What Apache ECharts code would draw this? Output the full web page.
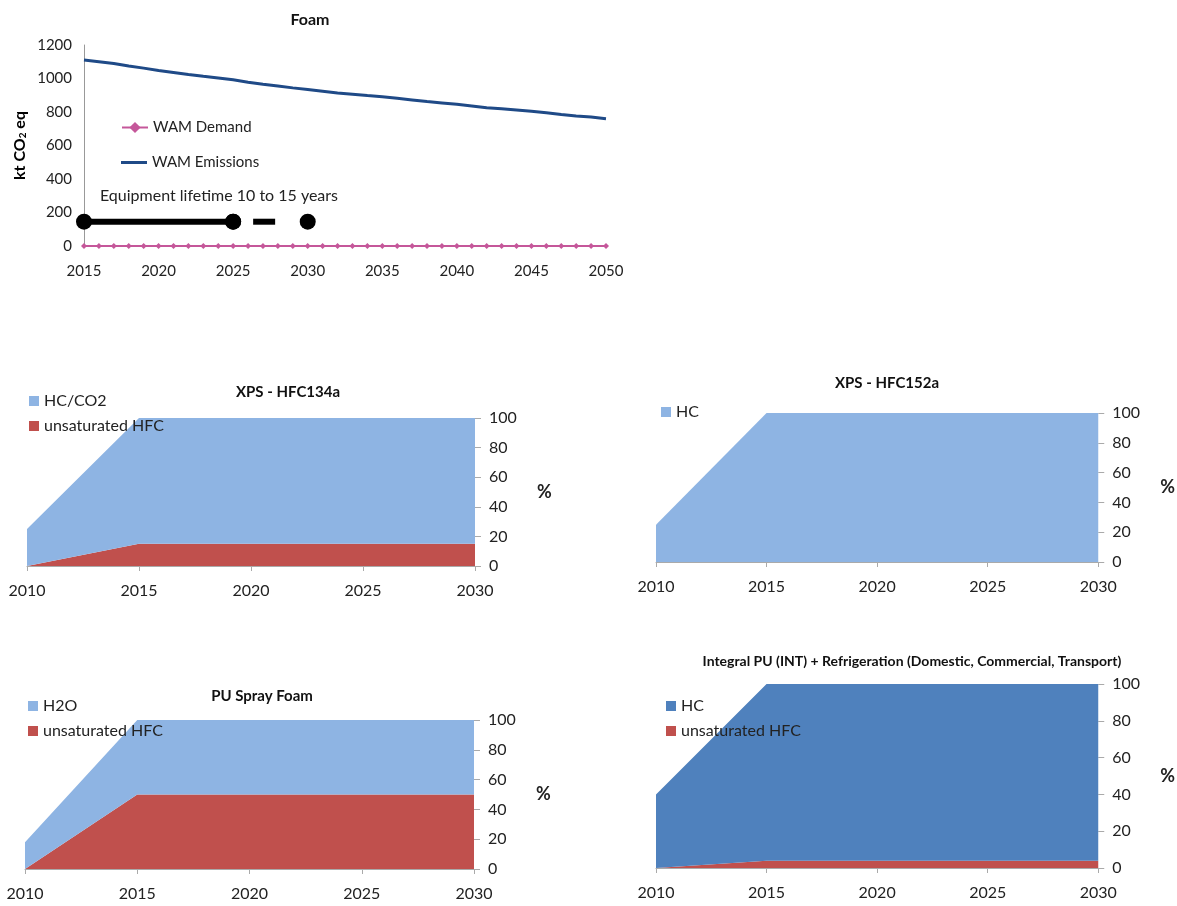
<!DOCTYPE html>
<html><head><meta charset="utf-8">
<script src="https://cdn.jsdelivr.net/npm/echarts@6/dist/echarts.min.js"></script>
<style>html,body{margin:0;padding:0;background:#fff}#c{width:1177px;height:906px}</style>
</head><body><div id="c"></div>
<script>
// ---- Top chart data (Foam) ----
const years = [2015,2016,2017,2018,2019,2020,2021,2022,2023,2024,2025,2026,2027,2028,2029,2030,2031,2032,2033,2034,2035,2036,2037,2038,2039,2040,2041,2042,2043,2044,2045,2046,2047,2048,2049,2050];
const wamDemand = [0,0,0,0,0,0,0,0,0,0,0,0,0,0,0,0,0,0,0,0,0,0,0,0,0,0,0,0,0,0,0,0,0,0,0,0];
const wamEmissions = [1110,1100,1090,1075,1062,1048,1036,1024,1013,1003,992,978,966,955,944,934,924,914,906,898,891,882,872,862,854,846,836,826,820,812,804,795,785,776,770,760];
const lifetimeSolid = [[2015,145],[2025,145]];
const lifetimeDashed = [[2025,145],[2030,145]];
const lifetimeLabel = 'Equipment lifetime 10 to 15 years';

// ---- Area charts data (%) ----
const areaYears = ['2010','2015','2020','2025','2030'];
const xps134UnsatHFC = [0,15,15,15,15];
const xps134HcCo2   = [25,85,85,85,85];
const xps152Hc      = [25,100,100,100,100];
const puUnsatHFC    = [0,50,50,50,50];
const puH2O         = [18,50,50,50,50];
const intUnsatHFC   = [0,4,4,4,4];
const intHc         = [40,96,96,96,96];

const FONT = 'Lato';
const LIGHT = '#8EB4E3', RED = '#C0504D', DARK = '#4F81BD';
const chart = echarts.init(document.getElementById('c'), null, {renderer:'canvas'});

const areaGrids = [
  {left:27, right:702, top:418, bottom:340},
  {left:656, right:72, top:413, bottom:344},
  {left:25, right:703, top:720, bottom:37},
  {left:656, right:72, top:684, bottom:38}
];
const grids = [{left:84, right:571, top:45, bottom:660}].concat(areaGrids);

const xAxes = [{
  gridIndex:0, type:'value', min:2015, max:2050, interval:5,
  axisLine:{show:true, lineStyle:{color:'#999'}}, axisTick:{show:false}, splitLine:{show:false},
  axisLabel:{color:'#222', fontSize:15, fontFamily:FONT, margin:18, formatter:v=>String(v)}
}];
const yAxes = [{
  gridIndex:0, type:'value', min:0, max:1200, interval:200,
  axisLine:{show:true, lineStyle:{color:'#999'}}, axisTick:{show:false}, splitLine:{show:false},
  axisLabel:{color:'#222', fontSize:15, fontFamily:FONT, margin:12, formatter:v=>String(v)},
  name:'{b|kt CO}{s|2}{b| eq}', nameLocation:'middle', nameRotate:90, nameGap:56,
  nameTextStyle:{rich:{b:{fontSize:16, fontWeight:'bold', color:'#000', fontFamily:FONT},
    s:{fontSize:10, fontWeight:'bold', color:'#000', fontFamily:FONT, padding:[7,0,0,0]}}}
}];
for (let i=1;i<=4;i++){
  xAxes.push({gridIndex:i, type:'category', data:areaYears, boundaryGap:false,
    axisLine:{show:true, lineStyle:{color:'#aaa'}}, axisTick:{show:true, length:5, lineStyle:{color:'#aaa'}},
    splitLine:{show:false},
    axisLabel:{color:'#222', fontSize:16, fontFamily:FONT, margin:17}});
  yAxes.push({gridIndex:i, type:'value', position:'right', min:0, max:100, interval:20,
    axisLine:{show:false}, axisTick:{show:true, length:6, lineStyle:{color:'#aaa'}},
    splitLine:{show:false},
    axisLabel:{color:'#222', fontSize:16, fontFamily:FONT, margin:14},
    name:'%', nameLocation:'middle', nameRotate:0, nameGap:62,
    nameTextStyle:{fontSize:18, fontWeight:'bold', color:'#222', fontFamily:FONT}});
}

function area(name, data, idx, color, stack){
  return {name, type:'line', xAxisIndex:idx, yAxisIndex:idx, stack:stack, data,
    symbol:'none', lineStyle:{width:0, color}, itemStyle:{color}, areaStyle:{color, opacity:1},
    emphasis:{disabled:true}, silent:true};
}

const series = [
  {name:'WAM Demand', type:'line', xAxisIndex:0, yAxisIndex:0,
   data:years.map((y,i)=>[y,wamDemand[i]]), symbol:'diamond', symbolSize:6,
   lineStyle:{width:2, color:'#C5579A'}, itemStyle:{color:'#C5579A'}},
  {name:'WAM Emissions', type:'line', xAxisIndex:0, yAxisIndex:0,
   data:years.map((y,i)=>[y,wamEmissions[i]]), symbol:'none', smooth:false,
   lineStyle:{width:3, color:'#1F4A87'}, itemStyle:{color:'#1F4A87'}},
  {name:'lifetimeSolid', type:'line', xAxisIndex:0, yAxisIndex:0, data:lifetimeSolid,
   symbol:'circle', symbolSize:16, lineStyle:{width:6, color:'#000'}, itemStyle:{color:'#000'}, z:5},
  {name:'lifetimeDashed', type:'line', xAxisIndex:0, yAxisIndex:0, data:lifetimeDashed,
   symbol:'circle', symbolSize:16, lineStyle:{width:6, color:'#000', type:[22,40], dashOffset:42}, itemStyle:{color:'#000'}, z:5},
  area('unsaturated HFC', xps134UnsatHFC, 1, RED, 's1'),
  area('HC/CO2', xps134HcCo2, 1, LIGHT, 's1'),
  area('HC', xps152Hc, 2, LIGHT, 's2'),
  area('unsaturated HFC', puUnsatHFC, 3, RED, 's3'),
  area('H2O', puH2O, 3, LIGHT, 's3'),
  area('unsaturated HFC', intUnsatHFC, 4, RED, 's4'),
  area('HC ', intHc, 4, DARK, 's4')
];

const legText = {color:'#222', fontSize:16, fontFamily:FONT};
const rectLeg = (left, top, data) => ({orient:'vertical', left, top, itemGap:9, itemWidth:10, itemHeight:10,
  icon:'rect', selectedMode:false, textStyle:legText, data, itemStyle:{borderWidth:0}});

const option = {
  backgroundColor:'#fff',
  animation:false,
  title:[
    {text:'Foam', left:305, top:7, textAlign:'center', textStyle:{fontSize:16, fontWeight:'bold', color:'#111', fontFamily:FONT}},
    {text:lifetimeLabel, left:214, top:183, textAlign:'center', textStyle:{fontSize:16, fontWeight:'normal', color:'#222', fontFamily:FONT}},
    {text:'XPS - HFC134a', left:283, top:380, textAlign:'center', textStyle:{fontSize:15, fontWeight:'bold', color:'#111', fontFamily:FONT}},
    {text:'XPS - HFC152a', left:882, top:371, textAlign:'center', textStyle:{fontSize:15, fontWeight:'bold', color:'#111', fontFamily:FONT}},
    {text:'PU Spray Foam', left:257, top:684, textAlign:'center', textStyle:{fontSize:15, fontWeight:'bold', color:'#111', fontFamily:FONT}},
    {text:'Integral PU (INT) + Refrigeration (Domestic, Commercial, Transport)', left:907, top:649, textAlign:'center', textStyle:{fontSize:14, fontWeight:'bold', color:'#111', fontFamily:FONT}}
  ],
  legend:[
    {orient:'vertical', left:116, top:115, itemWidth:26, itemHeight:14, selectedMode:false,
     textStyle:{color:'#222', fontSize:15, fontFamily:FONT}, data:['WAM Demand']},
    {orient:'vertical', left:116, top:150, itemWidth:26, itemHeight:3, icon:'rect', selectedMode:false,
     textStyle:{color:'#222', fontSize:15, fontFamily:FONT}, data:['WAM Emissions']},
    rectLeg(24, 388, ['HC/CO2','unsaturated HFC']),
    rectLeg(656, 399, ['HC']),
    rectLeg(23, 693, ['H2O','unsaturated HFC']),
    rectLeg(661, 693, [{name:'HC ', itemStyle:{color:DARK}}, 'unsaturated HFC'])
  ],
  grid:grids, xAxis:xAxes, yAxis:yAxes, series
};
chart.setOption(option);
</script></body></html>
